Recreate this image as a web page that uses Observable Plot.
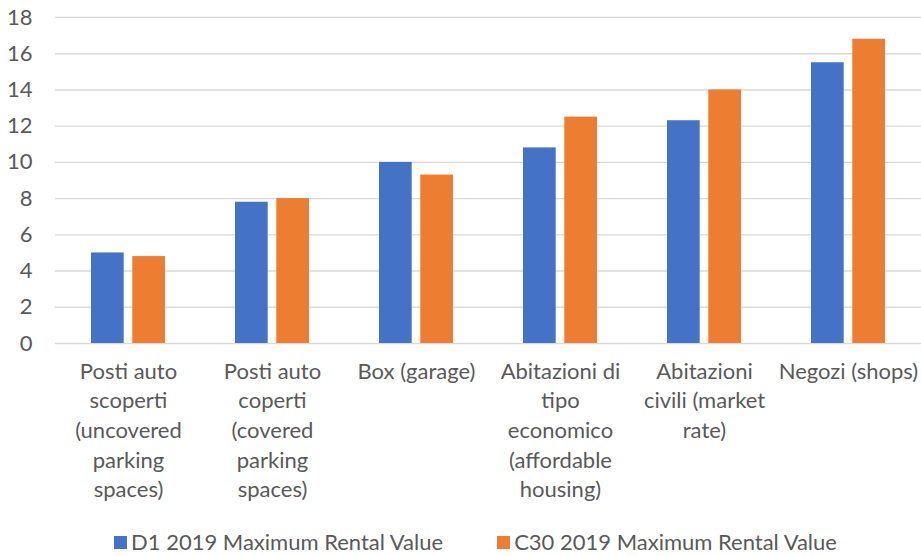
<!DOCTYPE html>
<html>
<head>
<meta charset="utf-8">
<script src="https://cdn.jsdelivr.net/npm/d3@7"></script>
<script src="https://cdn.jsdelivr.net/npm/@observablehq/plot@0.6"></script>
<style>
  html, body { margin: 0; padding: 0; background: #ffffff; }
  body { width: 921px; font-family: Lato, "Open Sans", sans-serif; color: #595959; }
  #chart svg { display: block; }
  #legend { display: flex; justify-content: center; align-items: center; gap: 54px; height: 22px; line-height: 22px; margin-top: 21px; padding-left: 30px; font-size: 22px; }
  #legend .item { display: flex; align-items: center; gap: 4px; white-space: nowrap; }
  #legend .swatch { width: 13px; height: 13px; display: inline-block; }
</style>
</head>
<body>
<div id="chart"></div>
<div id="legend"></div>
<script>
const categories = [
  "Posti auto scoperti (uncovered parking spaces)",
  "Posti auto coperti (covered parking spaces)",
  "Box (garage)",
  "Abitazioni di tipo economico (affordable housing)",
  "Abitazioni civili (market rate)",
  "Negozi (shops)"
];
const categoryLabels = [
  "Posti auto\nscoperti\n(uncovered\nparking\nspaces)",
  "Posti auto\ncoperti\n(covered\nparking\nspaces)",
  "Box (garage)",
  "Abitazioni di\ntipo\neconomico\n(affordable\nhousing)",
  "Abitazioni\ncivili (market\nrate)",
  "Negozi (shops)"
];
const seriesNames = ["D1 2019 Maximum Rental Value", "C30 2019 Maximum Rental Value"];
const d1Values = [5.0, 7.8, 10.0, 10.8, 12.3, 15.5];
const c30Values = [4.8, 8.0, 9.3, 12.5, 14.0, 16.8];
const yTicks = [0, 2, 4, 6, 8, 10, 12, 14, 16, 18];
const seriesColors = ["#4472C4", "#ED7D31"];

const d1Data = categories.map((c, i) => ({category: c, series: seriesNames[0], value: d1Values[i]}));
const c30Data = categories.map((c, i) => ({category: c, series: seriesNames[1], value: c30Values[i]}));
const labelOf = new Map(categories.map((c, i) => [c, categoryLabels[i]]));

const chart = Plot.plot({
  width: 921,
  height: 510,
  marginLeft: 55,
  marginRight: 0,
  marginTop: 17,
  marginBottom: 167,
  style: {fontFamily: "Lato, 'Open Sans', sans-serif", fontSize: "22px", color: "#595959", background: "#ffffff", overflow: "visible"},
  x: {domain: categories, paddingInner: 0.487, paddingOuter: 0.2435, label: null},
  y: {domain: [0, 18], label: null},
  color: {domain: seriesNames, range: seriesColors},
  marks: [
    Plot.gridY(yTicks, {stroke: "#d9d9d9", strokeOpacity: 1, strokeWidth: 1.4}),
    Plot.barY(d1Data, {x: "category", y: "value", fill: "series", insetRight: 41.3}),
    Plot.barY(c30Data, {x: "category", y: "value", fill: "series", insetLeft: 41.3}),
    Plot.axisY(yTicks, {tickSize: 0, tickPadding: 23, label: null, fontSize: 22, fill: "#595959"}),
    Plot.axisX({tickSize: 0, tickPadding: 14, label: null, fontSize: 22, fill: "#595959", lineHeight: 1.35, tickFormat: d => labelOf.get(d)})
  ]
});
document.getElementById("chart").append(chart);

const legend = document.getElementById("legend");
seriesNames.forEach((name, i) => {
  const item = document.createElement("div");
  item.className = "item";
  const sw = document.createElement("span");
  sw.className = "swatch";
  sw.style.background = seriesColors[i];
  const tx = document.createElement("span");
  tx.textContent = name;
  item.append(sw, tx);
  legend.append(item);
});
</script>
</body>
</html>
